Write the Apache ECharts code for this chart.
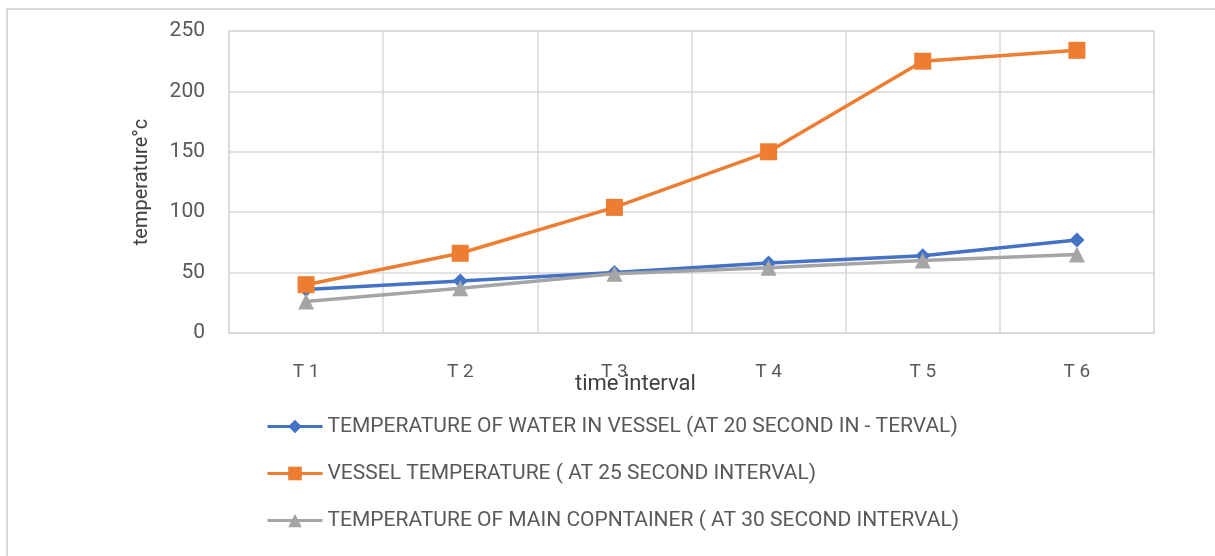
<!DOCTYPE html>
<html>
<head>
<meta charset="utf-8">
<script src="https://cdn.jsdelivr.net/npm/echarts@6/dist/echarts.min.js"></script>
<style>html,body{margin:0;padding:0;background:#fff;}#c{width:1215px;height:556px;}</style>
</head>
<body>
<div id="c"></div>
<script>
const categories = ['T 1', 'T 2', 'T 3', 'T 4', 'T 5', 'T 6'];
const waterInVessel = [36, 43, 50, 58, 64, 77];
const vesselTemp = [40, 66, 104, 150, 225, 234];
const mainContainer = [26, 37, 49, 54, 60, 65];
const seriesNames = [
  'TEMPERATURE OF WATER IN VESSEL (AT 20 SECOND IN - TERVAL)',
  'VESSEL TEMPERATURE ( AT 25 SECOND INTERVAL)',
  'TEMPERATURE OF MAIN COPNTAINER ( AT 30 SECOND INTERVAL)'
];
const yTicks = { min: 0, max: 250, interval: 50 };

const FONT = 'Roboto';
const chart = echarts.init(document.getElementById('c'), null, { renderer: 'canvas' });
chart.setOption({
  animation: false,
  backgroundColor: '#ffffff',
  textStyle: { fontFamily: FONT },
  graphic: [
    { type: 'rect', shape: { x: 7, y: 9, width: 1400, height: 700 }, style: { fill: 'none', stroke: '#d9d9d9', lineWidth: 2 }, silent: true, z: -1 },
    { type: 'rect', shape: { x: 229, y: 31, width: 925, height: 302 }, style: { fill: 'none', stroke: '#d9d9d9', lineWidth: 1.5 }, silent: true, z: 0 },
    { type: 'text', left: 575, top: 373, style: { text: 'time interval', font: '22px ' + FONT, fill: '#404040' } }
  ],
  grid: { left: 229, top: 31, right: 61, bottom: 223, containLabel: false },
  legend: {
    orient: 'vertical',
    left: 261,
    top: 411,
    itemGap: 26,
    itemWidth: 55,
    itemHeight: 17,
    lineStyle: { width: 3 },
    textStyle: { fontFamily: FONT, fontSize: 21, color: '#595959' },
    data: seriesNames
  },
  xAxis: {
    type: 'category',
    data: categories,
    boundaryGap: true,
    axisLine: { show: true, lineStyle: { color: '#d9d9d9', width: 1.5 } },
    axisTick: { show: false },
    axisLabel: { color: '#595959', fontSize: 19, fontFamily: FONT, margin: 30 },
    splitLine: { show: true, lineStyle: { color: '#d9d9d9', width: 1.5 } }
  },
  yAxis: {
    type: 'value',
    min: yTicks.min,
    max: yTicks.max,
    interval: yTicks.interval,
    name: 'temperature°c',
    nameLocation: 'middle',
    nameGap: 77,
    nameRotate: 90,
    nameTextStyle: { color: '#404040', fontSize: 20, fontFamily: FONT },
    axisLine: { show: false },
    axisTick: { show: false },
    axisLabel: { color: '#595959', fontSize: 21, fontFamily: FONT, margin: 24 },
    splitLine: { show: true, lineStyle: { color: '#d9d9d9', width: 1.5 } }
  },
  series: [
    {
      name: seriesNames[0], type: 'line', data: waterInVessel,
      symbol: 'diamond', symbolSize: 15,
      lineStyle: { color: '#4472C4', width: 3.5 },
      itemStyle: { color: '#4472C4' }, z: 2
    },
    {
      name: seriesNames[1], type: 'line', data: vesselTemp,
      symbol: 'rect', symbolSize: 17,
      lineStyle: { color: '#ED7D31', width: 3.5 },
      itemStyle: { color: '#ED7D31' }, z: 3
    },
    {
      name: seriesNames[2], type: 'line', data: mainContainer,
      symbol: 'triangle', symbolSize: 16,
      lineStyle: { color: '#A5A5A5', width: 3.5 },
      itemStyle: { color: '#A5A5A5' }, z: 4
    }
  ]
});
</script>
</body>
</html>
